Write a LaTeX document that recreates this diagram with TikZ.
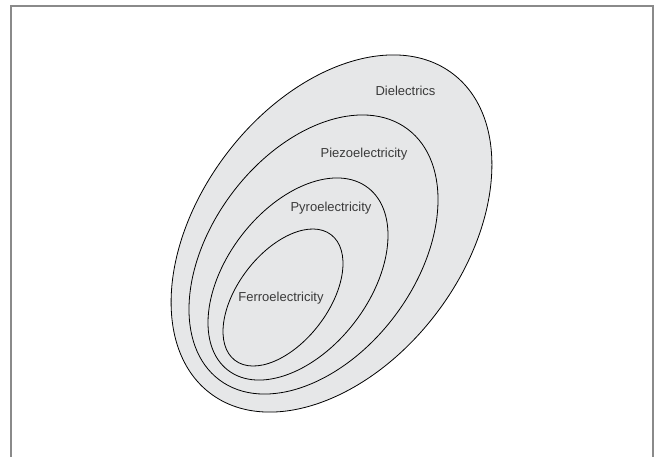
\documentclass[tikz,border=0pt]{standalone}
\usepackage{fontspec}
\setmainfont{Liberation Sans}
\definecolor{fillgray}{HTML}{E6E7E8}
\definecolor{framegray}{HTML}{8A8A8A}
\definecolor{textgray}{HTML}{3A3A3A}
\tikzset{
  set/.style={draw=black, line width=0.8pt},
  outerset/.style={set, fill=fillgray},
  setlabel/.style={text=textgray, font=\fontsize{13}{15}\selectfont, inner sep=0pt},
}
\begin{document}
\begin{tikzpicture}[x=1pt,y=-1pt]
\useasboundingbox (0,0) rectangle (656,456);
\clip (0,0) rectangle (656,456);
\fill[white] (0,0) rectangle (656,456);
\draw[framegray, line width=1.5pt] (11,470) -- (11,6) -- (653,6) -- (653,470);
\draw[outerset, shift={(331.5,233.5)}, rotate=52.8] (0,0) ellipse [x radius=200.6, y radius=131.8];
\draw[set, shift={(313.5,254.5)}, rotate=53.1] (0,0) ellipse [x radius=156.8, y radius=101.9];
\draw[set, shift={(298,279)}, rotate=52.5] (0,0) ellipse [x radius=115, y radius=71.3];
\draw[set, shift={(283,297.5)}, rotate=52.5] (0,0) ellipse [x radius=79.1, y radius=45.1];
\node[setlabel] (diel) at (405.5,91) {Dielectrics};
\node[setlabel] (piezo) at (364,154) {Piezoelectricity};
\node[setlabel] (pyro) at (331,208) {Pyroelectricity};
\node[setlabel] (ferro) at (281,298.5) {Ferroelectricity};
\end{tikzpicture}
\end{document}
